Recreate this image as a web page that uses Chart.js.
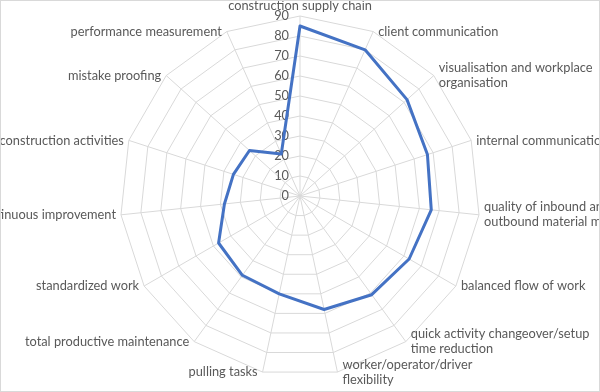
<!DOCTYPE html>
<html>
<head>
<meta charset="utf-8">
<script src="https://cdn.jsdelivr.net/npm/chart.js@4/dist/chart.umd.min.js"></script>
<style>
  html, body { margin: 0; padding: 0; background: #fff; }
  #wrap { width: 600px; height: 392px; box-sizing: border-box; border: 1px solid #d9d9d9; }
</style>
</head>
<body>
<div id="wrap"><canvas id="radar" width="598" height="390"></canvas></div>
<script>
const categories = [
    'construction supply chain',
    'client communication',
    ['visualisation and workplace', 'organisation'],
    'internal communication',
    ['quality of inbound and', 'outbound material management'],
    'balanced flow of work',
    ['quick activity changeover/setup', 'time reduction'],
    ['worker/operator/driver', 'flexibility'],
    'pulling tasks',
    'total productive maintenance',
    'standardized work',
    'continuous improvement',
    'lean construction activities',
    'mistake proofing',
    'performance measurement'
];
const scores = [85, 80, 72, 67, 66, 63, 61, 58, 50, 49, 47, 38, 35, 34, 23];
const scaleMax = 90;
const scaleStep = 10;

const labelFont = '12.8px Lato';
const textColor = '#595959';

// draw tick values left of the vertical axis and the category labels round the web
const excelLabels = {
    id: 'excelLabels',
    beforeDatasetsDraw(chart) {
        const r = chart.scales.r;
        const ctx = chart.ctx;
        ctx.save();
        ctx.font = labelFont;
        ctx.fillStyle = textColor;
        ctx.textAlign = 'right';
        ctx.textBaseline = 'middle';
        r.ticks.forEach(t => {
            const d = r.getDistanceFromCenterForValue(t.value);
            ctx.fillText(String(t.value), r.xCenter - 11, r.yCenter - d);
        });
        ctx.restore();
    },
    afterDraw(chart) {
        const r = chart.scales.r;
        const ctx = chart.ctx;
        const lineH = 15;
        ctx.save();
        ctx.font = labelFont;
        ctx.fillStyle = textColor;
        ctx.textBaseline = 'middle';
        categories.forEach((lab, i) => {
            const lines = Array.isArray(lab) ? lab : [lab];
            const p = r.getPointPosition(i, r.drawingArea);
            let x = p.x, y = p.y;
            if (i === 0) {
                ctx.textAlign = 'center';
                y = p.y - 10;
            } else if (p.x > r.xCenter) {
                ctx.textAlign = 'left';
                x = p.x + 5;
            } else {
                ctx.textAlign = 'right';
                x = p.x - 5;
            }
            const top = y - (lines.length - 1) * lineH / 2;
            lines.forEach((ln, k) => ctx.fillText(ln, x, top + k * lineH));
        });
        ctx.restore();
    }
};

new Chart(document.getElementById('radar'), {
    type: 'radar',
    data: {
        labels: categories,
        datasets: [{
            data: scores,
            borderColor: '#4472c4',
            borderWidth: 3,
            backgroundColor: 'rgba(0,0,0,0)',
            fill: false,
            pointRadius: 0,
            pointHoverRadius: 0,
            tension: 0
        }]
    },
    options: {
        responsive: false,
        animation: false,
        layout: { padding: { top: 15, bottom: 15, left: 0, right: 0 } },
        plugins: { legend: { display: false }, tooltip: { enabled: false } },
        elements: { line: { borderJoinStyle: 'round' } },
        scales: {
            r: {
                min: 0,
                max: scaleMax,
                ticks: { stepSize: scaleStep, display: false },
                grid: { color: '#d9d9d9', lineWidth: 1 },
                angleLines: { color: '#d9d9d9', lineWidth: 1 },
                pointLabels: { display: false }
            }
        }
    },
    plugins: [excelLabels]
});
</script>
</body>
</html>
